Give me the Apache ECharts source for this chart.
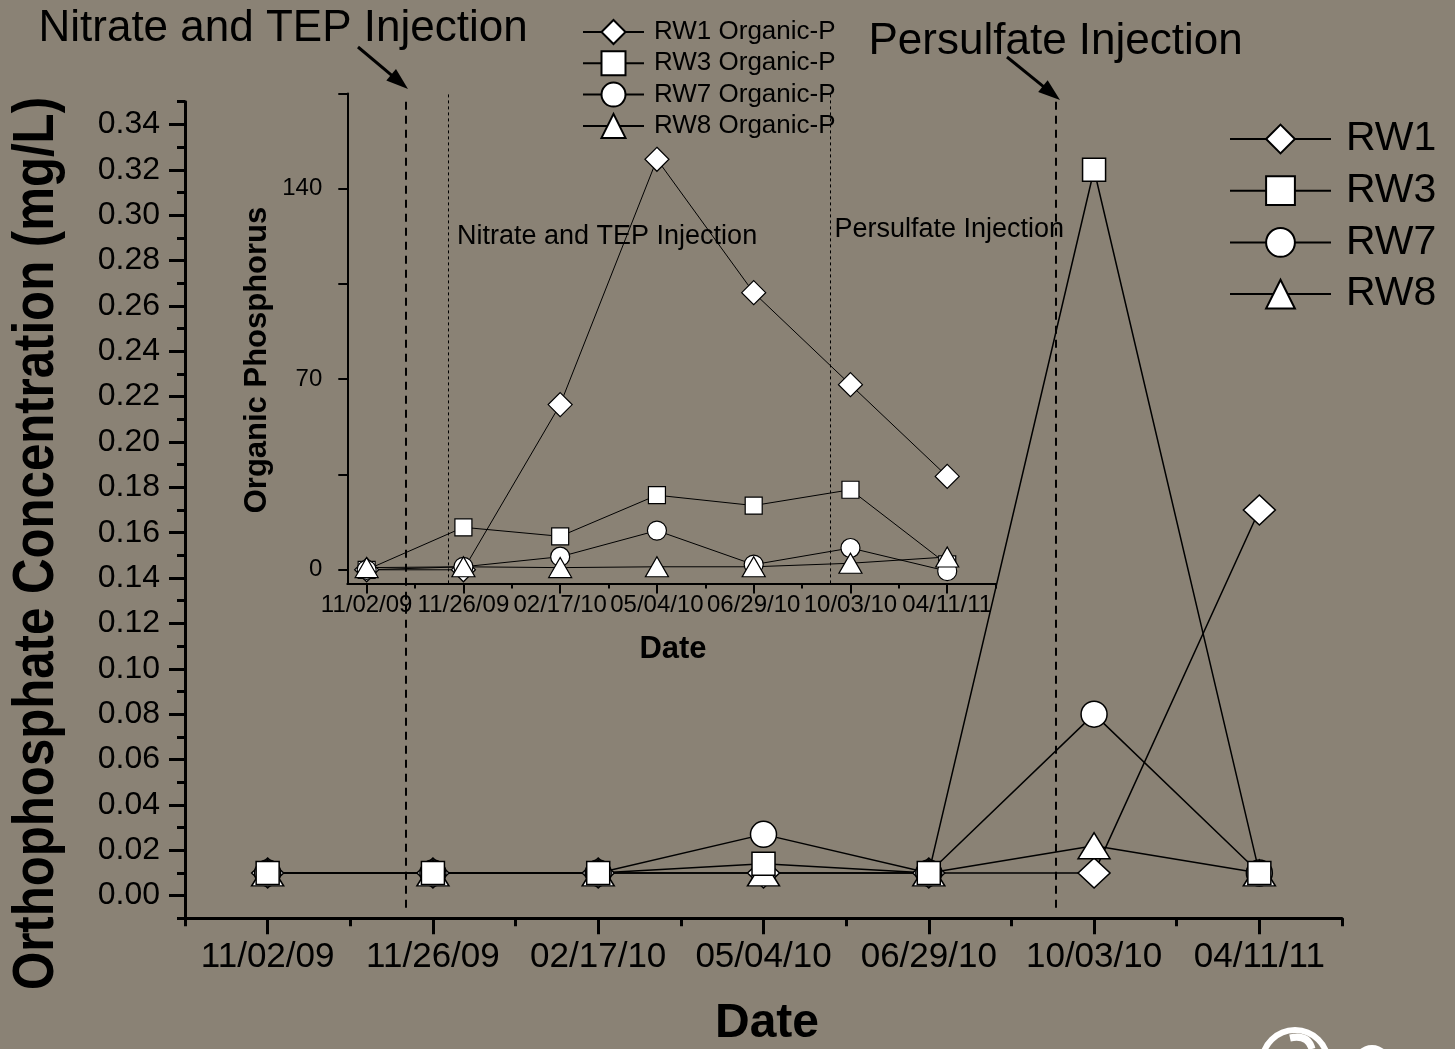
<!DOCTYPE html>
<html>
<head>
<meta charset="utf-8">
<script src="https://cdn.jsdelivr.net/npm/echarts@6/dist/echarts.min.js"></script>
<style>
html,body{margin:0;padding:0;background:#8a8275;}
#chart{width:1455px;height:1049px;}
</style>
</head>
<body>
<div id="chart"></div>
<script>
// ---------- data ----------
const categories = ['11/02/09','11/26/09','02/17/10','05/04/10','06/29/10','10/03/10','04/11/11'];
const catIdx = [0,1,2,3,4,5,6];

// main chart: orthophosphate (mg/L)
const rw1 = [0.010,0.010,0.010,0.010,0.010,0.010,0.170];
const rw3 = [0.010,0.010,0.010,0.014,0.010,0.320,0.010];
const rw7 = [0.010,0.010,0.010,0.027,0.010,0.080,0.010];
const rw8 = [0.010,0.010,0.010,0.010,0.010,0.022,0.010];

// inset: organic phosphorus
const orgRW1 = [0.0,0.0,60.7,150.8,101.8,68.0,34.3];
const orgRW3 = [0.0,15.6,12.3,27.4,23.6,29.4,2.0];
const orgRW7 = [0.0,1.1,4.8,14.4,1.9,8.0,-0.5];
const orgRW8 = [0.8,1.1,0.8,1.1,1.1,2.4,4.7];

// injection events (position on the date axis, in category units)
const injMain = [0.837, 4.769];
const injInset = [0.836, 4.789];

// tick values
const mainYLabels = [0,0.02,0.04,0.06,0.08,0.10,0.12,0.14,0.16,0.18,0.20,0.22,0.24,0.26,0.28,0.30,0.32,0.34];
const mainYMinor = [-0.01,0.01,0.03,0.05,0.07,0.09,0.11,0.13,0.15,0.17,0.19,0.21,0.23,0.25,0.27,0.29,0.31,0.33,0.35];
const mainXMinor = [-0.5,0.5,1.5,2.5,3.5,4.5,5.5,6.5];
const insetYTicks = [0,35,70,105,140,175];
const insetYLabels = [0,70,140];
const insetXMinor = [0.5,1.5,2.5,3.5,4.5,5.5,6.5];

// ---------- helpers ----------
const SANS = '"Liberation Sans", Arial, sans-serif';
function measure(text, font){
  const c = document.createElement('canvas').getContext('2d');
  c.font = font;
  return c.measureText(text).width;
}
const yTitle = 'Orthophosphate Concentration (mg/L)';
const yTitleFont = 'bold 58px ' + SANS;
const yTitleScale = 893 / measure(yTitle, yTitleFont);

function arrow(x1,y1,x2,y2){
  const dx=x2-x1, dy=y2-y1, L=Math.hypot(dx,dy), ux=dx/L, uy=dy/L;
  const hl=22, hw=7.5;
  const bx=x2-ux*hl, by=y2-uy*hl, nx=-uy, ny=ux;
  return [
    {type:'line', shape:{x1:x1,y1:y1,x2:bx+ux*2,y2:by+uy*2}, style:{stroke:'#000', lineWidth:3}},
    {type:'polygon', shape:{points:[[x2,y2],[bx+nx*hw,by+ny*hw],[bx-nx*hw,by-ny*hw]]}, style:{fill:'#000'}}
  ];
}
function pts(arr){ return catIdx.map(i => [i, arr[i]]); }

const markerStyleMain = {color:'#fff', borderColor:'#000', borderWidth:1.5};
const markerStyleInset = {color:'#fff', borderColor:'#000', borderWidth:1.2};

function mainSeries(name, data, symbol, size, extra){
  return Object.assign({
    name:name, type:'line', xAxisIndex:0, yAxisIndex:0, data:pts(data),
    symbol:symbol, symbolSize:size, showAllSymbol:true,
    itemStyle:markerStyleMain, lineStyle:{color:'#000', width:1.5},
    emphasis:{disabled:true}, animation:false, z:3
  }, extra||{});
}
function insetSeries(name, data, symbol, size, extra){
  return Object.assign({
    name:name, type:'line', xAxisIndex:2, yAxisIndex:2, data:pts(data),
    symbol:symbol, symbolSize:size, showAllSymbol:true,
    itemStyle:markerStyleInset, lineStyle:{color:'#000', width:1},
    emphasis:{disabled:true}, animation:false, z:2
  }, extra||{});
}

const chart = echarts.init(document.getElementById('chart'), null, {renderer:'canvas'});
const option = {
  backgroundColor:'#8a8275',
  animation:false,
  textStyle:{fontFamily:SANS, color:'#000'},
  grid:[
    {left:185, top:101.7, width:1157, height:816.6},
    {left:347.3, top:93.4, width:648.3, height:490}
  ],
  xAxis:[
    {gridIndex:0, type:'value', min:-0.5, max:6.5, position:'bottom',
     axisLine:{show:true, onZero:false, lineStyle:{color:'#000', width:3}},
     axisTick:{show:true, customValues:catIdx, length:16, lineStyle:{color:'#000', width:3}},
     axisLabel:{customValues:catIdx, formatter:v=>categories[Math.round(v)], fontSize:35, color:'#000', margin:22, fontFamily:SANS},
     splitLine:{show:false}},
    {gridIndex:0, type:'value', min:-0.5, max:6.5, position:'bottom',
     axisLine:{show:false, onZero:false},
     axisTick:{show:true, customValues:mainXMinor, length:8, lineStyle:{color:'#000', width:3}},
     axisLabel:{show:false}, splitLine:{show:false}},
    {gridIndex:1, type:'value', min:-0.2, max:6.5, position:'bottom',
     axisLine:{show:true, onZero:false, lineStyle:{color:'#000', width:2}},
     axisTick:{show:true, customValues:catIdx, length:10, lineStyle:{color:'#000', width:2}},
     axisLabel:{customValues:catIdx, formatter:v=>categories[Math.round(v)], fontSize:24, color:'#000', margin:10, fontFamily:SANS},
     splitLine:{show:false}},
    {gridIndex:1, type:'value', min:-0.2, max:6.5, position:'bottom',
     axisLine:{show:false, onZero:false},
     axisTick:{show:true, customValues:insetXMinor, length:5, lineStyle:{color:'#000', width:2}},
     axisLabel:{show:false}, splitLine:{show:false}}
  ],
  yAxis:[
    {gridIndex:0, type:'value', min:-0.01, max:0.35, position:'left',
     axisLine:{show:true, onZero:false, lineStyle:{color:'#000', width:3}},
     axisTick:{show:true, customValues:mainYLabels, length:16, lineStyle:{color:'#000', width:3}},
     axisLabel:{customValues:mainYLabels, formatter:v=>v.toFixed(2), fontSize:32, color:'#000', margin:25, fontFamily:SANS},
     splitLine:{show:false}},
    {gridIndex:0, type:'value', min:-0.01, max:0.35, position:'left',
     axisLine:{show:false, onZero:false},
     axisTick:{show:true, customValues:mainYMinor, length:8, lineStyle:{color:'#000', width:3}},
     axisLabel:{show:false}, splitLine:{show:false}},
    {gridIndex:1, type:'value', min:-5, max:175, position:'left',
     axisLine:{show:true, onZero:false, lineStyle:{color:'#000', width:2}},
     axisTick:{show:true, customValues:insetYTicks, length:9, lineStyle:{color:'#000', width:2}},
     axisLabel:{customValues:insetYLabels, formatter:v=>String(v), fontSize:24, color:'#000', margin:25, fontFamily:SANS},
     splitLine:{show:false}}
  ],
  legend:[
    {data:['RW1','RW3','RW7','RW8'], orient:'vertical', left:1229, top:118.5, padding:0,
     itemWidth:101, itemHeight:36, itemGap:10.7, selectedMode:false,
     textStyle:{fontSize:41, lineHeight:41, color:'#000', fontFamily:SANS, padding:[0,0,0,10]}},
    {data:['RW1 Organic-P','RW3 Organic-P','RW7 Organic-P','RW8 Organic-P'], orient:'vertical', left:582, top:19, padding:0,
     itemWidth:61, itemHeight:30, itemGap:5.3, selectedMode:false,
     textStyle:{fontSize:26, lineHeight:26, color:'#000', fontFamily:SANS, padding:[0,0,0,5]}}
  ],
  series:[
    // inset (organic phosphorus)
    insetSeries('RW1 Organic-P', orgRW1, 'diamond', 24, {
      markLine:{silent:true, symbol:['none','none'], label:{show:false},
        lineStyle:{color:'#000', width:1, type:[3,3]},
        data: injInset.map(v => ({xAxis:v}))}
    }),
    insetSeries('RW3 Organic-P', orgRW3, 'rect', 17),
    insetSeries('RW7 Organic-P', orgRW7, 'circle', 19),
    insetSeries('RW8 Organic-P', orgRW8, 'triangle', [23,20]),
    // main (orthophosphate)
    mainSeries('RW1', rw1, 'diamond', [32,30], {
      markLine:{silent:true, symbol:['none','none'], label:{show:false},
        lineStyle:{color:'#000', width:2, type:[8,6]},
        data: injMain.map(v => [{coord:[v,0.35]},{coord:[v,-0.0077]}])}
    }),
    mainSeries('RW7', rw7, 'circle', 26),
    mainSeries('RW8', rw8, 'triangle', [32,26]),
    mainSeries('RW3', rw3, 'rect', 23)
  ],
  graphic:[].concat(
    [
      {type:'text', x:38.5, y:29, style:{text:'Nitrate and TEP Injection', font:'44px '+SANS, fill:'#000', textAlign:'left', textVerticalAlign:'middle'}},
      {type:'text', x:868.5, y:42, style:{text:'Persulfate Injection', font:'44px '+SANS, fill:'#000', textAlign:'left', textVerticalAlign:'middle'}},
      {type:'text', x:457, y:237, style:{text:'Nitrate and TEP Injection', font:'27px '+SANS, fill:'#000', textAlign:'left', textVerticalAlign:'middle'}},
      {type:'text', x:834.5, y:230, style:{text:'Persulfate Injection', font:'27px '+SANS, fill:'#000', textAlign:'left', textVerticalAlign:'middle'}},
      {type:'text', x:257, y:360, rotation:Math.PI/2, style:{text:'Organic Phosphorus', font:'bold 31px '+SANS, fill:'#000', textAlign:'center', textVerticalAlign:'middle'}},
      {type:'text', x:673, y:649, style:{text:'Date', font:'bold 31px '+SANS, fill:'#000', textAlign:'center', textVerticalAlign:'middle'}},
      {type:'text', x:37, y:543.5, rotation:Math.PI/2, scaleX:yTitleScale, scaleY:1, style:{text:yTitle, font:yTitleFont, fill:'#000', textAlign:'center', textVerticalAlign:'middle'}},
      {type:'text', x:767, y:1023.5, style:{text:'Date', font:'bold 48px '+SANS, fill:'#000', textAlign:'center', textVerticalAlign:'middle'}},
      // logo (partially visible)
      {type:'circle', shape:{cx:1295, cy:1063, r:33}, style:{fill:'none', stroke:'#fff', lineWidth:6}},
      {type:'bezierCurve', shape:{x1:1290,y1:1038,x2:1312,y2:1049,cpx1:1308,cpy1:1034}, style:{stroke:'#fff', lineWidth:7, fill:'none'}},
      {type:'circle', shape:{cx:1372, cy:1064, r:19}, style:{fill:'#fff'}}
    ],
    arrow(358,47,408,89),
    arrow(1007,57,1060,100)
  )
};
chart.setOption(option);
</script>
</body>
</html>
